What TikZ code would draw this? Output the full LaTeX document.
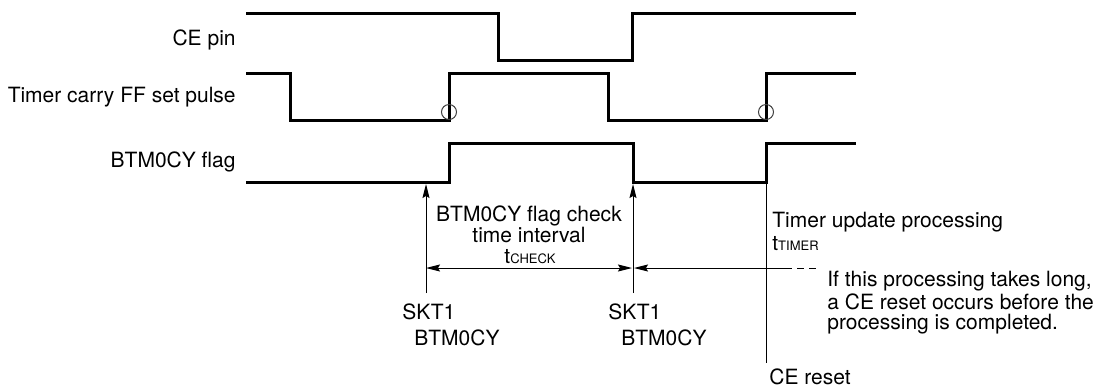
\documentclass[tikz,border=0pt]{standalone}
\usepackage{fontspec}
\setmainfont{TeX Gyre Heros}
\usetikzlibrary{arrows.meta}
\definecolor{markring}{gray}{0.25}
\tikzset{
	wave/.style={line width=1.5pt, line join=miter},
	thinline/.style={line width=0.5pt},
	tip/.tip={Stealth[length=7pt, width=3.5pt, inset=1pt]},
	dimarrow/.style={thinline, -tip},
	lbl/.style={inner sep=0pt, font=\fontsize{10.5}{10}\selectfont},
}
\newcommand{\tsym}[1]{t{\fontsize{6.5}{6.5}\selectfont #1}}

\begin{document}
\begin{tikzpicture}[x=0.5pt, y=-0.5pt]
		\useasboundingbox (0,0) rectangle (1104,387);
		
		% signal names
		\node[lbl, anchor=base east] (cename) at (236,45) {CE pin};
		\node[lbl, anchor=base east] (ffname) at (236,102) {Timer carry FF set pulse};
		\node[lbl, anchor=base east] (flagname) at (236,167) {BTM0CY flag};
		
		% waveforms
		\draw[wave] (246,13) -- (498,13) -- (498,60) -- (632,60) -- (632,13) -- (856,13);
		\draw[wave] (246,73) -- (290,73) -- (290,120) -- (449,120) -- (449,73) -- (608,73)
			-- (608,120) -- (766,120) -- (766,73) -- (856,73);
		\draw[wave] (246,182) -- (449,182) -- (449,143) -- (633,143) -- (633,182) -- (766,182)
			-- (766,143) -- (856,143);
		
		% rising edge marks
		\draw[thinline, markring] (449,112) circle[radius=3.75pt];
		\draw[thinline, markring] (766,112) circle[radius=3.75pt];
		
		% check points
		\coordinate (chkA) at (426,293);
		\coordinate (chkAtop) at (426,184);
		\coordinate (chkB) at (633,293);
		\coordinate (chkBtop) at (633,184);
		\draw[dimarrow] (chkA) -- (chkAtop);
		\draw[dimarrow] (chkB) -- (chkBtop);
		
		% CE reset line
		\coordinate (rsttop) at (766,182);
		\coordinate (rstbot) at (766,363);
		\draw[thinline] (rsttop) -- (rstbot);
		
		% intervals
		\coordinate (dimA) at (426,268);
		\coordinate (dimB) at (632,268);
		\coordinate (dimC) at (634,268);
		\coordinate (dimD) at (785,268);
		\coordinate (dimE) at (818,268);
		\draw[thinline, tip-tip] (dimA) -- (dimB);
		\draw[thinline, tip-] (dimC) -- (dimD);
		\draw[thinline, dash pattern=on 3.5pt off 2.5pt] (dimD) -- (dimE);
		
		% texts
		\node[lbl, anchor=base] (chktext) at (529,221) {BTM0CY flag check};
		\node[lbl, anchor=base] (chktime) at (529,242) {time interval};
		\node[lbl, anchor=base] (tchk) at (530,263) {\tsym{CHECK}};
		\node[lbl, anchor=base west] (sktA) at (402,319) {SKT1};
		\node[lbl, anchor=base west] (btmA) at (414,345) {BTM0CY};
		\node[lbl, anchor=base west] (sktB) at (608,319) {SKT1};
		\node[lbl, anchor=base west] (btmB) at (621,345) {BTM0CY};
		\node[lbl, anchor=base west] (updtext) at (772,227) {Timer update processing};
		\node[lbl, anchor=base west] (ttmr) at (772,250) {\tsym{TIMER}};
		\node[lbl, anchor=north west, align=left] (note) at (827,271)
			{If this processing takes long,\\a CE reset occurs before the\\processing is completed.};
		\node[lbl, anchor=base west] (rsttext) at (769,384) {CE reset};
	\end{tikzpicture}
\end{document}
